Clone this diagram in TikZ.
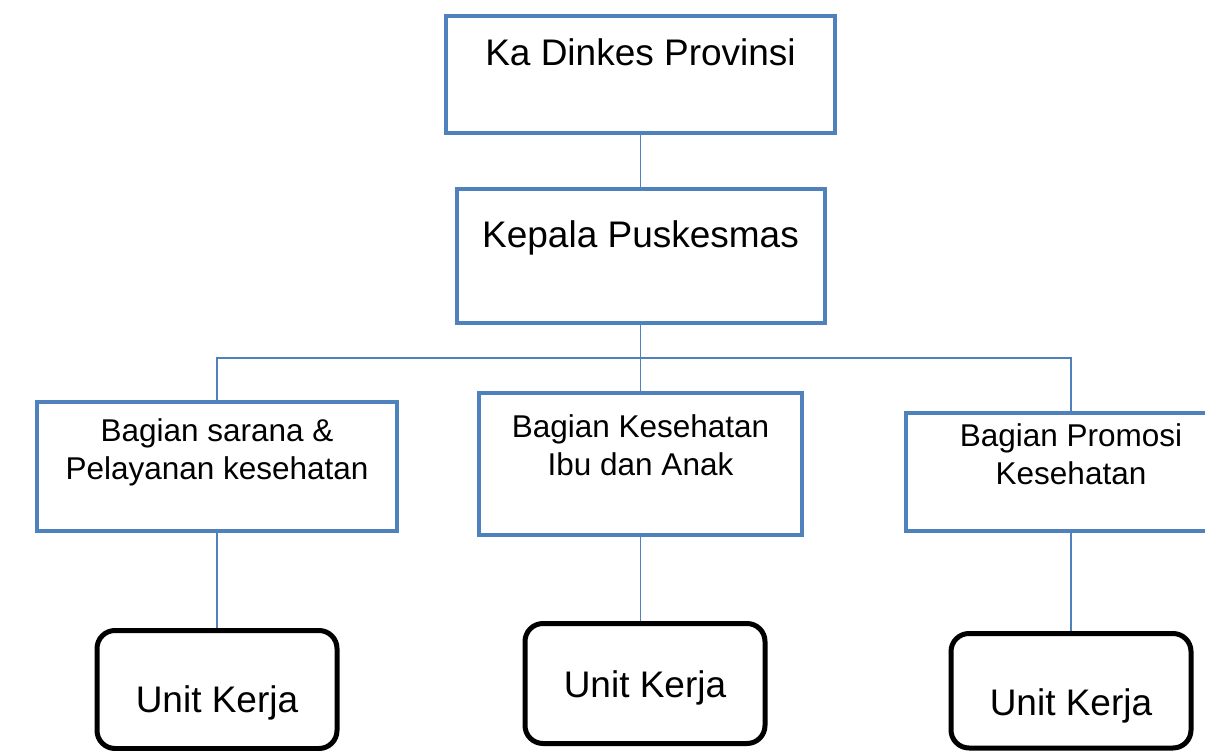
\documentclass[tikz,border=0pt]{standalone}
\usepackage{fontspec}
\setmainfont{Liberation Sans}
\usetikzlibrary{positioning,backgrounds}
\definecolor{boxblue}{RGB}{79,129,189}

\begin{document}
\begin{tikzpicture}[x=1pt, y=-1pt, node distance=56pt,
        kotak/.style={draw=boxblue, line width=4pt, inner sep=0pt, outer sep=0pt, align=center},
        unit/.style={draw=black, line width=5pt, rounded corners=18pt, inner sep=0pt, outer sep=0pt,
            minimum width=240pt, font=\fontsize{37}{44}\selectfont},
        besar/.style={font=\fontsize{37}{44}\selectfont},
        kecil/.style={font=\fontsize{31.5}{38}\selectfont},
        link/.style={draw=boxblue, line width=1.3pt}]
        \useasboundingbox (0,0) rectangle (1205,751);
        % Pimpinan
        \node[kotak, besar, minimum width=389pt, text height=50pt, text depth=67pt] (dinkes) at (640.5,74.5) {Ka Dinkes Provinsi};
        \node[kotak, besar, minimum width=368pt, text height=59pt, text depth=75pt, below=of dinkes] (kepala) {Kepala Puskesmas};
        % Bagian
        \node[kotak, kecil, minimum width=360pt, text height=77pt, text depth=52pt] (sarana) at (217,466.5) {Bagian sarana \&\\Pelayanan kesehatan};
        \node[kotak, kecil, minimum width=323pt, text height=82pt, text depth=60pt, below=70pt of kepala] (kia) {Bagian Kesehatan\\Ibu dan Anak};
        \node[kotak, kecil, minimum width=330pt, text height=71pt, text depth=47pt] (promosi) at (1071,472) {Bagian Promosi\\Kesehatan};
        % Unit kerja
        \node[unit, text height=81.5pt, text depth=36.5pt, below=99.5pt of sarana] (unitA) {Unit Kerja};
        \node[unit, text height=73.5pt, text depth=46.5pt, below=88.5pt of kia, xshift=4.5pt] (unitB) {Unit Kerja};
        \node[unit, text height=81.5pt, text depth=33pt, below=102.5pt of promosi] (unitC) {Unit Kerja};
        % Garis
        \coordinate (bus) at (641,358);
        \begin{scope}[on background layer]
        \draw[link] (dinkes) -- (kepala);
        \draw[link] (kepala.south) -- (kepala.south |- kia.north);
        \draw[link] (sarana.north) |- (bus) -| (promosi.north);
        \draw[link] (sarana) -- (unitA);
        \draw[link] (kia.south) -- (kia.south |- unitB.north);
        \draw[link] (promosi) -- (unitC);
        \end{scope}
\end{tikzpicture}
\end{document}
